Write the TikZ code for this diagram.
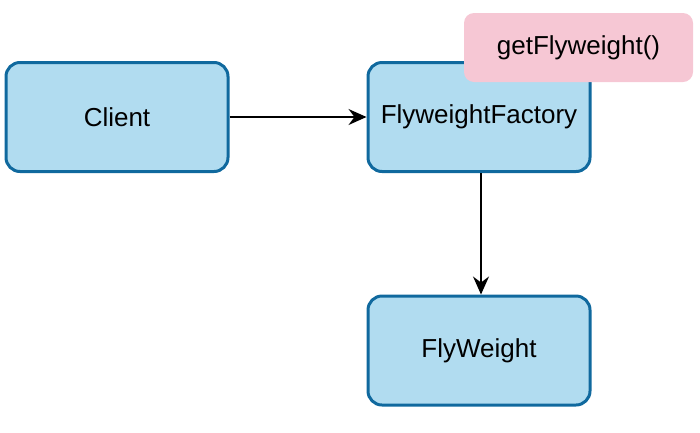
\documentclass[tikz,border=0pt]{standalone}
\usepackage{fontspec}
\setmainfont{Liberation Sans}
\usetikzlibrary{arrows.meta}
\definecolor{boxfill}{HTML}{B1DCF0}
\definecolor{boxline}{HTML}{10699E}
\definecolor{pinkfill}{HTML}{F6C7D4}
\begin{document}
\begin{tikzpicture}[x=1pt,y=-1pt,
  cls/.style={draw=boxline,fill=boxfill,line width=3pt,rounded corners=14pt,
    minimum width=222pt,minimum height=109pt,inner sep=0pt,font=\fontsize{26}{30}\selectfont},
  note/.style={fill=pinkfill,rounded corners=10pt,minimum width=229pt,minimum height=69pt,
    inner sep=0pt,font=\fontsize{26}{30}\selectfont},
  conn/.style={line width=1.5pt,-{Stealth[length=18pt,width=16pt,inset=6pt]}}]
\useasboundingbox (0,0) rectangle (700,432);
\node[cls] (client) at (117,117) {Client};
\node[cls] (factory) at (479,117) {FlyweightFactory};
\node[cls] (fly) at (479,350.5) {FlyWeight};
\node[note] (get) at (578.5,47.5) {getFlyweight()};
\draw[conn] (client.east) -- (factory.west);
\draw[conn] ([xshift=2pt]factory.south) -- ([xshift=2pt]fly.north);
\end{tikzpicture}
\end{document}
